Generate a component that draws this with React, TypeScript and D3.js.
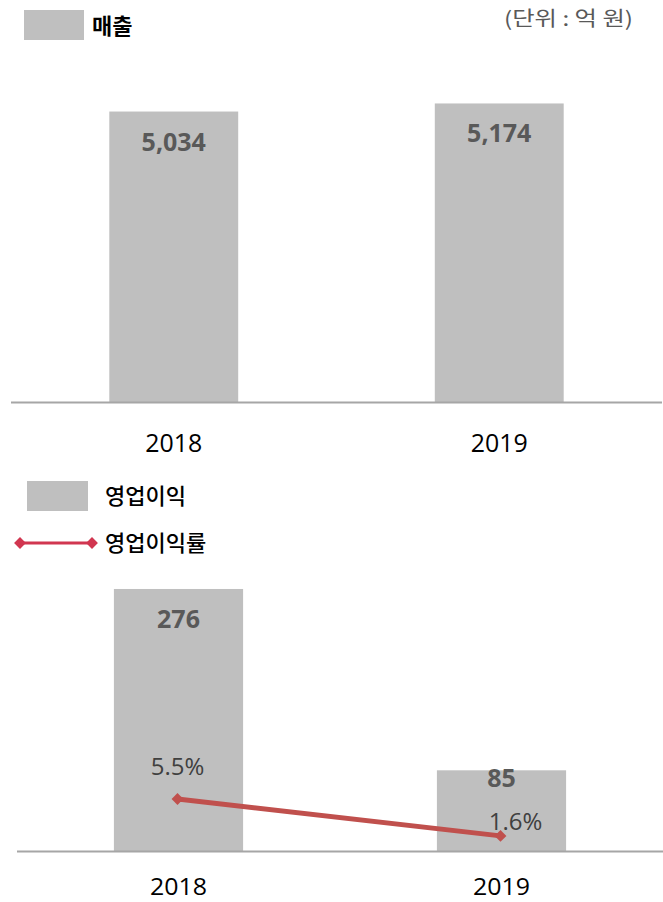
import React from "react";
import * as d3 from "d3";

const years = ["2018", "2019"];
const sales = [5034, 5174];
const opProfit = [276, 85];
const opMargin = [5.5, 1.6];
const salesLabels = ["5,034", "5,174"];
const marginLabels = ["5.5%", "1.6%"];

const W = 663;
const H = 902;
const FONT = "'Noto Sans CJK KR', 'Noto Sans', sans-serif";
const NUM = "'Open Sans', 'Noto Sans', sans-serif";

export default function App() {
  // top chart
  const xTop = d3.scaleBand<string>().domain(years).range([11, 662]).padding(0);
  const yTop = d3.scaleLinear().domain([0, 6000]).range([402, 55.8]);
  const barWTop = xTop.bandwidth() * 0.396;

  // bottom chart
  const xBot = d3.scaleBand<string>().domain(years).range([17, 663]).padding(0);
  const yBot = d3.scaleLinear().domain([0, 300]).range([851, 566.2]);
  const yRate = d3.scaleLinear().domain([0, 10]).range([851, 756.5]);
  const barWBot = xBot.bandwidth() * 0.4;

  const cTop = (y: string) => (xTop(y) as number) + xTop.bandwidth() / 2;
  const cBot = (y: string) => (xBot(y) as number) + xBot.bandwidth() / 2 - 1;

  const line = d3
    .line<number>()
    .x((_, i) => cBot(years[i]))
    .y((d) => yRate(d));

  const diamondPath = d3.symbol().type(d3.symbolSquare).size(70)();

  return (
    <svg
      width={W}
      height={H}
      style={{ position: "absolute", left: 0, top: 0, background: "#fff" }}
      fontFamily={FONT}
    >
      {/* top legend */}
      <rect x={24} y={10} width={60} height={30} fill="#bfbfbf" />
      <text x={92} y={34} fontSize={22} fontWeight={700} fill="#000">
        매출
      </text>
      <text x={504} y={26} fontSize={20} fill="#595959" textLength={129} lengthAdjust="spacingAndGlyphs">
        (단위 : 억 원)
      </text>

      {/* top bars */}
      {years.map((yr, i) => (
        <g key={yr}>
          <rect
            x={cTop(yr) - barWTop / 2}
            y={yTop(sales[i])}
            width={barWTop}
            height={yTop(0) - yTop(sales[i])}
            fill="#bfbfbf"
          />
          <text
            x={cTop(yr)}
            y={yTop(sales[i]) + 39}
            fontSize={25}
            fontWeight={700}
            fontFamily={NUM}
            fill="#595959"
            textAnchor="middle"
          >
            {salesLabels[i]}
          </text>
          <text
            x={cTop(yr)}
            y={452}
            fontSize={25}
            fontFamily={NUM}
            fill="#000"
            textAnchor="middle"
            textLength={57}
            lengthAdjust="spacingAndGlyphs"
          >
            {yr}
          </text>
        </g>
      ))}
      <line x1={11} x2={662} y1={402.5} y2={402.5} stroke="#a6a6a6" strokeWidth={2} />

      {/* bottom legend */}
      <rect x={27} y={481} width={61} height={30} fill="#bfbfbf" />
      <text x={105} y={504} fontSize={22} fontWeight={500} fill="#000">
        영업이익
      </text>
      <line x1={20} x2={92} y1={543} y2={543} stroke="#d13650" strokeWidth={3} />
      {[20, 92].map((x) => (
        <path key={x} d={diamondPath as string} transform={`translate(${x},543) rotate(45)`} fill="#d13650" />
      ))}
      <text x={105} y={551} fontSize={22} fontWeight={500} fill="#000">
        영업이익률
      </text>

      {/* bottom bars */}
      {years.map((yr, i) => (
        <g key={yr}>
          <rect
            x={cBot(yr) - barWBot / 2 + 1}
            y={yBot(opProfit[i])}
            width={barWBot}
            height={yBot(0) - yBot(opProfit[i])}
            fill="#bfbfbf"
          />
          <text
            x={cBot(yr) + 1}
            y={yBot(opProfit[i]) + (i === 0 ? 39 : 17)}
            fontSize={25}
            fontWeight={700}
            fontFamily={NUM}
            fill="#595959"
            textAnchor="middle"
          >
            {opProfit[i]}
          </text>
          <text
            x={cBot(yr) + 1}
            y={895}
            fontSize={23}
            fontFamily={NUM}
            fill="#000"
            textAnchor="middle"
            textLength={57}
            lengthAdjust="spacingAndGlyphs"
          >
            {yr}
          </text>
        </g>
      ))}
      <line x1={17} x2={663} y1={851.5} y2={851.5} stroke="#a6a6a6" strokeWidth={2} />

      {/* line */}
      <path d={line(opMargin) as string} fill="none" stroke="#c0504d" strokeWidth={5} />
      {opMargin.map((m, i) => (
        <g key={i}>
          <path
            d={diamondPath as string}
            transform={`translate(${cBot(years[i])},${yRate(m)}) rotate(45)`}
            fill="#c0504d"
          />
          <text
            x={cBot(years[i]) + (i === 0 ? 0 : 15)}
            y={yRate(m) + (i === 0 ? -24 : -6)}
            fontSize={24}
            fontFamily={NUM}
            fill="#404040"
            textAnchor="middle"
          >
            {marginLabels[i]}
          </text>
        </g>
      ))}
    </svg>
  );
}
